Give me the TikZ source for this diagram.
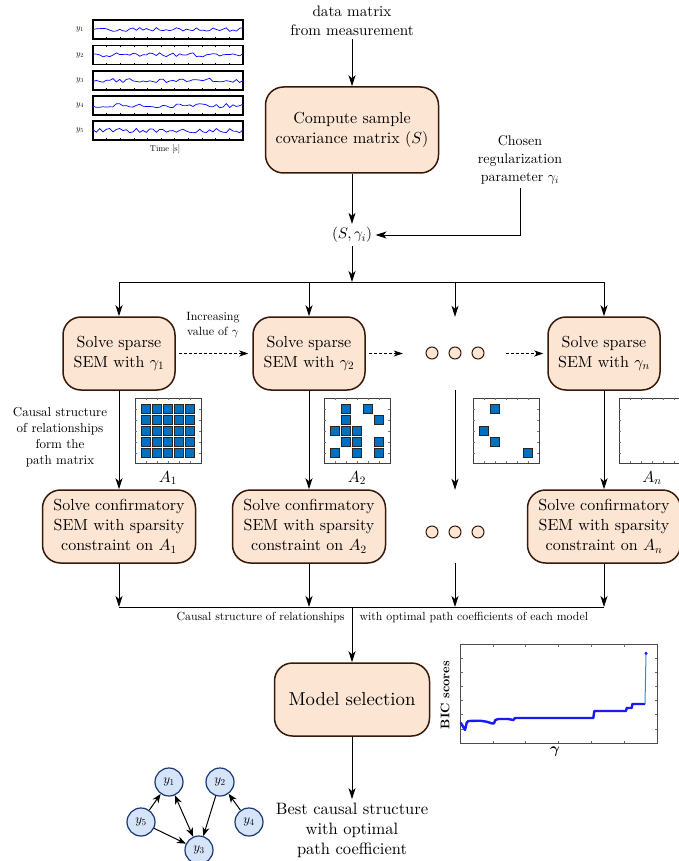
\RequirePackage{fix-cm}
\documentclass[tikz,border=0pt]{standalone}
\usepackage{amsmath,amssymb,bm}
\usepackage{xcolor}
\usepackage{tikz}
\usetikzlibrary{arrows.meta,positioning,calc}
\DeclareFontShape{TU}{lmr}{m}{n}{<-> "[lmroman10-regular]:mapping=tex-text;"}{}
\DeclareFontShape{TU}{lmr}{bx}{n}{<-> "[lmroman10-bold]:mapping=tex-text;"}{}
\DeclareFontShape{OML}{cmm}{m}{it}{<-> cmmi10}{}
\DeclareFontShape{OML}{cmm}{b}{it}{<-> cmmib10}{}
\DeclareFontShape{OT1}{cmr}{m}{n}{<-> cmr10}{}
\definecolor{peachA}{RGB}{253,229,212}
\definecolor{brownA}{RGB}{55,25,10}
\definecolor{cellblue}{RGB}{0,112,192}
\definecolor{nodeblueA}{RGB}{214,228,250}
\definecolor{nodeblueB}{RGB}{25,55,115}
\definecolor{bicblue}{RGB}{25,25,245}
\definecolor{bicjump}{RGB}{40,140,220}
\newcommand{\setfs}[2]{\fontsize{#1}{#2}\selectfont}
\newcommand{\sigpanel}[3]{\pgfmathsetseed{#2}
  \draw[line width=1.3pt] (93,#1) rectangle ++(150,19);
  \foreach \t in {1,...,10}{\draw[line width=0.4pt] ({93+13.6*\t},#1) -- ++(0,1.5) ({93+13.6*\t},{#1+19}) -- ++(0,-1.5);}
  \draw[blue,line width=0.7pt] plot[domain=0:150,samples=46] ({93+\x},{#1+9.5+2.2*rand});
  \node[font=\setfs{8.5}{10}] (ylab#3) at (80,{#1+9.5}) {$y_{#3}$};}
\newcommand{\pmframe}[2]{\draw[black!75,line width=0.9pt] (#1,#2) rectangle ++(66,65);
  \foreach \t in {1,...,5}{\draw[black!55,line width=0.5pt] ({#1+11*\t},#2) -- ++(0,2) ({#1+11*\t},{#2+65}) -- ++(0,-2)
    (#1,{#2+11*\t}) -- ++(2,0) ({#1+66},{#2+11*\t}) -- ++(-2,0);}}
\newcommand{\pmcell}[4]{\filldraw[fill=cellblue,draw=black!85,line width=0.7pt] ({#1+11*#3-4.5},{#2+11*#4-4.5}) rectangle ++(9,9);}
\tikzset{
  procbox/.style={draw=brownA,fill=peachA,line width=1.5pt,rounded corners=18pt,align=center,font=\setfs{16}{20}},
  flowtxt/.style={align=center,font=\setfs{15.2}{19}},
  dotc/.style={circle,draw=brownA,fill=peachA,line width=1pt,minimum size=12pt,inner sep=0pt},
  flowarr/.style={-{Stealth[length=11pt,width=7pt,inset=3pt]},line width=0.9pt},
  dasharr/.style={densely dashed,-{Stealth[length=9pt,width=6pt,inset=2.5pt]},line width=0.8pt,shorten <=3pt,shorten >=4pt},
  gnode/.style={circle,draw=nodeblueB,fill=nodeblueA,line width=1.2pt,minimum size=28pt,inner sep=0pt,font=\setfs{13}{15}},
  garr/.style={-{Stealth[length=9pt,width=7pt]},line width=1pt}
}

\begin{document}
\begin{tikzpicture}[x=1pt,y=-1pt]
\useasboundingbox (0,0) rectangle (678,861);
% measured signals
\sigpanel{20}{11}{1}
\sigpanel{45.5}{23}{2}
\sigpanel{71}{37}{3}
\sigpanel{96}{41}{4}
\sigpanel{121}{53}{5}
\node[font=\setfs{8.5}{10}] (tlab) at (165,149) {Time [s]};
% covariance and regularization
\node[flowtxt] (data) at (352,21) {data matrix\\from measurement};
\node[procbox,minimum width=173,minimum height=86] (cov) at (352,130) {Compute sample\\covariance matrix $(S)$};
\node[flowtxt,font=\setfs{14}{18}] (gam) at (520,160) {Chosen\\regularization\\parameter $\gamma_i$};
\node[flowtxt] (sg) at (352,235) {$(S,\gamma_i)$};
\coordinate (split) at (352,282);
\draw[flowarr] (data) -- (cov);
\draw[flowarr] (cov) -- (sg);
\draw[flowarr] (gam.south) |- (sg.east);
\draw[flowarr] (sg) -- (split);
% sparse SEM row
\node[procbox,minimum width=112,minimum height=73] (sp1) at (119,353.5) {Solve sparse\\SEM with $\gamma_1$};
\node[procbox,minimum width=112,minimum height=73] (sp2) at (309,353.5) {Solve sparse\\SEM with $\gamma_2$};
\node[minimum width=96,minimum height=73] (mid1) at (455,353.5) {};
\node[procbox,minimum width=112,minimum height=73] (spn) at (604,353.5) {Solve sparse\\SEM with $\gamma_n$};
\node[dotc] (d1) at (432,353) {};
\node[dotc] (d2) at (455,353) {};
\node[dotc] (d3) at (478,353) {};
\node[font=\setfs{12}{15},align=center] (incr) at (213,325) {Increasing\\value of $\gamma$};
\draw (split -| sp1) -- (split -| spn);
\foreach \n in {sp1,sp2,mid1,spn} \draw[flowarr] (split -| \n) -- (\n);
\draw[dasharr] (sp1) -- (sp2);
\draw[dasharr] (sp2) -- (mid1);
\draw[dasharr] (mid1) -- (spn);
% path matrices
\pmframe{135}{398}
\pmcell{135}{398}{1}{1} \pmcell{135}{398}{2}{1} \pmcell{135}{398}{3}{1} \pmcell{135}{398}{4}{1} \pmcell{135}{398}{5}{1}
\pmcell{135}{398}{1}{2} \pmcell{135}{398}{2}{2} \pmcell{135}{398}{3}{2} \pmcell{135}{398}{4}{2} \pmcell{135}{398}{5}{2}
\pmcell{135}{398}{1}{3} \pmcell{135}{398}{2}{3} \pmcell{135}{398}{3}{3} \pmcell{135}{398}{4}{3} \pmcell{135}{398}{5}{3}
\pmcell{135}{398}{1}{4} \pmcell{135}{398}{2}{4} \pmcell{135}{398}{3}{4} \pmcell{135}{398}{4}{4} \pmcell{135}{398}{5}{4}
\pmcell{135}{398}{1}{5} \pmcell{135}{398}{2}{5} \pmcell{135}{398}{3}{5} \pmcell{135}{398}{4}{5} \pmcell{135}{398}{5}{5}
\pmframe{324}{398}
\pmcell{324}{398}{2}{1} \pmcell{324}{398}{4}{1}
\pmcell{324}{398}{2}{2} \pmcell{324}{398}{5}{2}
\pmcell{324}{398}{1}{3} \pmcell{324}{398}{2}{3} \pmcell{324}{398}{3}{3}
\pmcell{324}{398}{2}{4} \pmcell{324}{398}{3}{4} \pmcell{324}{398}{5}{4}
\pmcell{324}{398}{1}{5} \pmcell{324}{398}{3}{5} \pmcell{324}{398}{5}{5}
\pmframe{473}{398}
\pmcell{473}{398}{2}{1} \pmcell{473}{398}{1}{3} \pmcell{473}{398}{2}{4} \pmcell{473}{398}{5}{5}
\pmframe{619}{398}
\node[font=\setfs{16}{18}] (lA1) at (168,478) {$A_1$};
\node[font=\setfs{16}{18}] (lA2) at (357,478) {$A_2$};
\node[font=\setfs{16}{18}] (lAn) at (652,478) {$A_n$};
\node[font=\setfs{13}{16},align=center] (causal) at (60,437) {Causal structure\\of relationships\\form the\\path matrix};
% confirmatory SEM row
\node[procbox,minimum width=153,minimum height=73] (cf1) at (119,526.5) {Solve confirmatory\\SEM with sparsity\\constraint on $A_1$};
\node[procbox,minimum width=153,minimum height=73] (cf2) at (309,526.5) {Solve confirmatory\\SEM with sparsity\\constraint on $A_2$};
\node[minimum width=96,minimum height=73] (mid2) at (455,526.5) {};
\node[procbox,minimum width=153,minimum height=73] (cfn) at (604,526.5) {Solve confirmatory\\SEM with sparsity\\constraint on $A_n$};
\node[dotc] (e1) at (432,532) {};
\node[dotc] (e2) at (455,532) {};
\node[dotc] (e3) at (478,532) {};
\draw[flowarr] (sp1) -- (cf1);
\draw[flowarr] (sp2) -- (cf2);
\draw[flowarr] (mid1) -- (mid2);
\draw[flowarr] (spn) -- (cfn);
% model selection
\coordinate (join) at (352,607);
\draw (join -| cf1) -- (join -| cfn);
\foreach \n in {cf1,cf2,mid2,cfn} \draw[flowarr] (\n) -- (join -| \n);
\node[font=\setfs{11.8}{14},anchor=east] (lblL) at (348,617) {Causal structure of relationships};
\node[font=\setfs{11.8}{14},anchor=west] (lblR) at (356,617) {with optimal path coefficients of each model};
\node[procbox,minimum width=155,minimum height=73,font=\setfs{18.7}{22}] (msel) at (352,699.5) {Model selection};
\node[flowtxt,font=\setfs{16.5}{20}] (best) at (352,830) {Best causal structure\\with optimal\\path coefficient};
\draw[flowarr] (join) -- (msel);
\draw[flowarr] (msel) -- (best);
% BIC scores
\draw[black!70,line width=0.8pt] (460,644) rectangle (657,743);
\foreach \t in {1,...,5}{\draw[black!60,line width=0.5pt] ({460+32.83*\t},743) -- ++(0,-2.5) ({460+32.83*\t},644) -- ++(0,2.5);}
\foreach \t in {1,...,6}{\draw[black!60,line width=0.5pt] (460,{644+14.14*\t}) -- ++(2.5,0) (657,{644+14.14*\t}) -- ++(-2.5,0);}
\draw[bicblue,line width=2.4pt,line join=round] (460.7,722.7) -- (462.7,726) -- (465,730) -- (466.7,722.7) -- (468.3,721) -- (480,720.7) -- (486.7,721.7) -- (491.7,723.3) -- (494,723.3) -- (495.3,720) -- (498.3,719) -- (508.3,719) -- (513.3,720) -- (515,718) -- (593.3,718) -- (594.3,711) -- (626,711) -- (626.7,708) -- (631.7,708) -- (632.3,704) -- (645,704);
\draw[bicjump,line width=1pt] (645,704) -- (646,653.3);
\fill[bicblue] (646,653.3) circle (1.7);
\node[rotate=90,font=\setfs{12.5}{14}\bfseries] (biclab) at (445,695) {BIC scores};
\node[font=\setfs{15}{16}] (gamlab) at (555,752) {$\boldsymbol{\gamma}$};
% best causal graph
\node[gnode] (y1) at (169,782) {$y_1$};
\node[gnode] (y2) at (220,782) {$y_2$};
\node[gnode] (y3) at (199,850) {$y_3$};
\node[gnode] (y4) at (249,822) {$y_4$};
\node[gnode] (y5) at (141,822) {$y_5$};
\draw[garr] (y5) -- (y1);
\draw[garr,{Stealth[length=9pt,width=7pt]}-{Stealth[length=9pt,width=7pt]}] (y1) -- (y3);
\draw[garr] (y2) -- (y3);
\draw[garr] (y4) -- (y2);
\draw[garr] (y5) -- (y3);
\end{tikzpicture}
\end{document}
